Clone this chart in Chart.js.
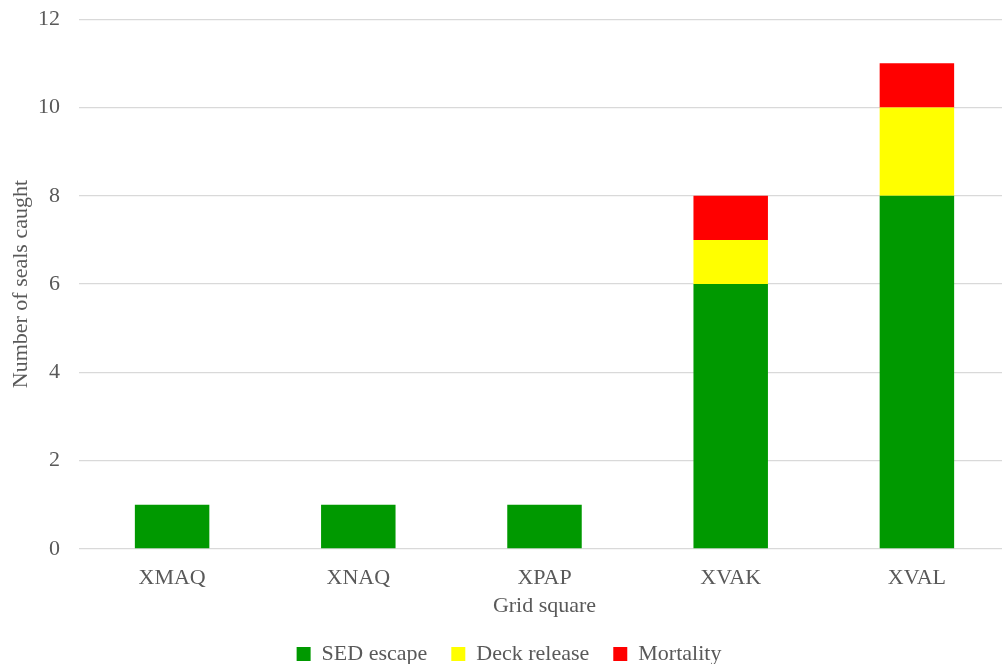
<!DOCTYPE html>
<html>
<head>
<meta charset="utf-8">
<script src="https://cdn.jsdelivr.net/npm/chart.js@4"></script>
<style>
  html, body { margin: 0; padding: 0; background: #fff; overflow: hidden; }
  #wrap { width: 1002px; height: 664px; position: relative; overflow: hidden; }
  #inner { position: absolute; left: 0; top: -13px; width: 1010px; height: 688px; }
</style>
</head>
<body>
<div id="wrap"><div id="inner"><canvas id="sealChart"></canvas></div></div>
<script>
const gridSquares = ["XMAQ", "XNAQ", "XPAP", "XVAK", "XVAL"];
const sedEscape = [1, 1, 1, 6, 8];
const deckRelease = [0, 0, 0, 1, 2];
const mortality = [0, 0, 0, 1, 1];
const yTicks = [0, 2, 4, 6, 8, 10, 12];

const textColor = '#595959';
const serif = "'Liberation Serif', 'Times New Roman', serif";

const ctx = document.getElementById('sealChart').getContext('2d');

new Chart(ctx, {
    type: 'bar',
    data: {
        labels: gridSquares,
        datasets: [
            { label: 'SED escape', data: sedEscape, backgroundColor: '#009900' },
            { label: 'Deck release', data: deckRelease, backgroundColor: '#ffff00' },
            { label: 'Mortality', data: mortality, backgroundColor: '#ff0000' }
        ]
    },
    options: {
        responsive: true,
        maintainAspectRatio: false,
        animation: false,
        layout: { padding: { top: 0, right: 0, left: 8, bottom: 0 } },
        datasets: {
            bar: { barPercentage: 0.4, categoryPercentage: 1.0 }
        },
        scales: {
            x: {
                stacked: true,
                afterFit: axis => { axis.height = 70; },
                grid: { display: false, drawTicks: false },
                border: { display: false },
                ticks: { color: textColor, font: { family: serif, size: 22 }, padding: 16 },
                title: {
                    display: true, text: 'Grid square', color: textColor,
                    font: { family: serif, size: 22 }, padding: { top: 0, bottom: 0 }
                }
            },
            y: {
                stacked: true,
                min: 0, max: 12,
                afterBuildTicks: axis => { axis.ticks = yTicks.map(v => ({ value: v })); },
                afterFit: axis => { axis.width = 71; },
                grid: { color: '#d9d9d9', lineWidth: 1.3, drawTicks: false },
                border: { display: false },
                ticks: { color: textColor, font: { family: serif, size: 22 }, padding: 19 },
                title: {
                    display: true, text: 'Number of seals caught', color: textColor,
                    font: { family: serif, size: 22 }, padding: { top: 0, bottom: 0 }
                }
            }
        },
        plugins: {
            legend: {
                position: 'bottom',
                labels: {
                    color: textColor,
                    font: { family: serif, size: 22 },
                    boxWidth: 14, boxHeight: 14,
                    padding: 24
                }
            },
            tooltip: { enabled: false }
        }
    }
});
</script>
</body>
</html>
